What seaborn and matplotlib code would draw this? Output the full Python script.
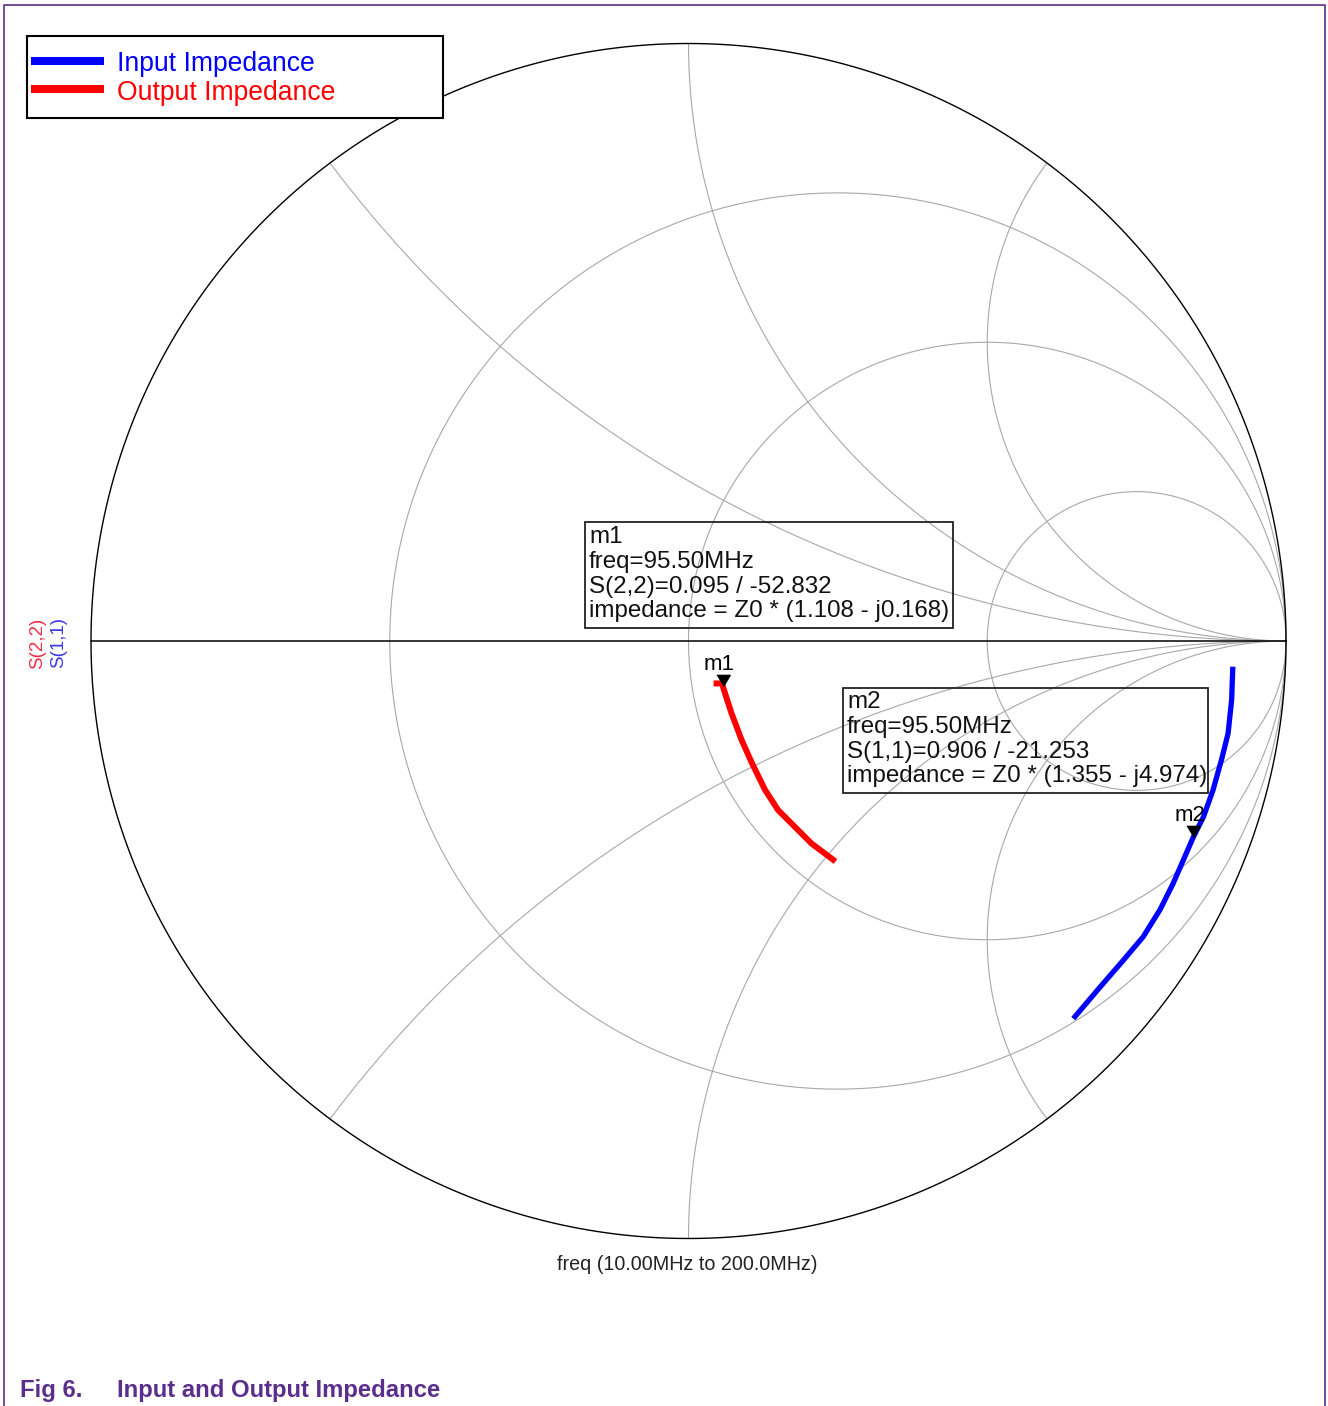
import numpy as np
import pandas as pd
import matplotlib
matplotlib.use("Agg")
import matplotlib.pyplot as plt
from matplotlib.patches import Rectangle
import seaborn as sns

# ---------------- data ----------------
# reflection coefficients (real / imaginary) along the sweep
s11_re = [0.911, 0.909, 0.903, 0.892, 0.878, 0.862, 0.845, 0.828, 0.811, 0.789, 0.761, 0.728, 0.689, 0.644]
s11_im = [-0.043, -0.099, -0.155, -0.199, -0.249, -0.294, -0.328, -0.367, -0.406, -0.450, -0.495, -0.534, -0.579, -0.632]
s22_re = [0.042, 0.056, 0.061, 0.072, 0.089, 0.106, 0.128, 0.150, 0.178, 0.206, 0.246]
s22_im = [-0.071, -0.071, -0.087, -0.121, -0.166, -0.204, -0.249, -0.283, -0.311, -0.339, -0.369]
series_names = ["Input Impedance", "Output Impedance"]
series_colors = ["#0000ff", "#ff0000"]
trace_labels = ["S(2,2)", "S(1,1)"]
trace_label_colors = ["#ee3046", "#3a3ae0"]

marker_names = ["m1", "m2"]
marker_freq = ["95.50MHz", "95.50MHz"]
marker_param = ["S(2,2)", "S(1,1)"]
marker_mag = [0.095, 0.906]
marker_ang = [-52.832, -21.253]
marker_z = ["1.108 - j0.168", "1.355 - j4.974"]

r_grid = [1 / 3, 1, 3]
x_grid = [0.5, 1, 2]
freq_label = "freq (10.00MHz to 200.0MHz)"
caption_num = "Fig 6."
caption_text = "Input and Output Impedance"

# ---------------- layout ----------------
W, H = 1328, 1406
CX, CY, RP = 688.5, 641.0, 597.5
PURPLE = "#5b2d8c"
GRID = "#a8a8a8"

sns.set_theme(style="white")
plt.rcParams["font.family"] = ["Liberation Sans", "DejaVu Sans"]

fig = plt.figure(figsize=(W / 100, H / 100), dpi=100)
fig.patch.set_facecolor("white")
ax = fig.add_axes([0, 0, 1, 1])
ax.set_xlim(-CX / RP, (W - CX) / RP)
ax.set_ylim((CY - H) / RP, CY / RP)
ax.axis("off")


def P(x, y):
    """pixel position (from top-left) -> chart coordinates"""
    return (x - CX) / RP, (CY - y) / RP


# ---------------- Smith grid ----------------
t = np.linspace(0, 2 * np.pi, 1441)
for r in r_grid:
    c, rad = r / (r + 1), 1 / (r + 1)
    ax.plot(c + rad * np.cos(t), rad * np.sin(t), color=GRID, lw=0.8, zorder=1)

phi = np.linspace(0, np.pi / 2 - 1e-5, 2000)
for xv in x_grid:
    for s in (1, -1):
        z = np.tan(phi) + 1j * s * xv
        g = (z - 1) / (z + 1)
        ax.plot(np.append(g.real, 1.0), np.append(g.imag, 0.0), color=GRID, lw=0.8, zorder=1)

ax.plot(np.cos(t), np.sin(t), color="black", lw=1.0, zorder=2)
ax.plot([-1, 1], [0, 0], color="black", lw=1.1, zorder=2)

# ---------------- traces ----------------
df = pd.concat([
    pd.DataFrame({"re": s11_re, "im": s11_im, "series": series_names[0]}),
    pd.DataFrame({"re": s22_re, "im": s22_im, "series": series_names[1]}),
], ignore_index=True)
pal = dict(zip(series_names, series_colors))
for name, lw in zip(series_names, [3.8, 4.3]):
    sns.lineplot(data=df[df["series"] == name], x="re", y="im", hue="series",
                 palette=pal, sort=False, estimator=None, legend=False,
                 lw=lw, ax=ax, zorder=3, solid_capstyle="butt", solid_joinstyle="round")

# ---------------- markers ----------------
tri = [(-0.6, 1.0), (0.6, 1.0), (0.0, 0.0)]
for name, mag, ang in zip(marker_names, marker_mag, marker_ang):
    g = mag * np.exp(1j * np.deg2rad(ang))
    ax.plot([g.real], [g.imag], marker=tri, ms=16, color="black", zorder=6, lw=0)
    ax.annotate(name, (g.real, g.imag), xytext=(-2.5, 16), textcoords="offset points",
                ha="center", va="center", fontsize=16, color="black", zorder=6)

# marker readout boxes
boxes = [(585, 522, 953, 628, 589, 543), (843, 688, 1208, 793, 847, 708)]
for (x0, y0, x1, y1, tx, ty), name, fq, prm, mag, ang, zz in zip(
        boxes, marker_names, marker_freq, marker_param, marker_mag, marker_ang, marker_z):
    ax.add_patch(Rectangle(P(x0, y1), (x1 - x0) / RP, (y1 - y0) / RP, fill=False,
                           edgecolor="#222222", lw=1.3, zorder=5))
    lines = [name, f"freq={fq}", f"{prm}={mag:.3f} / {ang:.3f}", f"impedance = Z0 * ({zz})"]
    for i, ln in enumerate(lines):
        ax.text(*P(tx, ty + 24.8 * i), ln, fontsize=17.4, ha="left", va="baseline",
                color="#111111", zorder=6)

# ---------------- legend ----------------
ax.add_patch(Rectangle(P(27, 118), 416 / RP, 82 / RP, facecolor="white",
                       edgecolor="black", lw=1.5, zorder=7))
for i, (name, col) in enumerate(zip(series_names, series_colors)):
    ly = 61 + 28.5 * i
    xa, ya = P(31, ly)
    xb, _ = P(104, ly)
    ax.plot([xa, xb], [ya, ya], color=col, lw=5.8, solid_capstyle="butt", zorder=8)
    ax.text(*P(117, ly + 10), name, color=col, fontsize=19.1, ha="left",
            va="baseline", zorder=8)

# trace labels on the left
for i, (lab, col) in enumerate(zip(trace_labels, trace_label_colors)):
    ax.text(*P(38 + 21 * i, 643), lab, rotation=90, color=col, fontsize=13.5,
            ha="center", va="center", zorder=4)

# sweep label
ax.text(*P(687, 1265), freq_label, fontsize=14.2, color="#222222",
        ha="center", va="center")

# ---------------- frame and caption ----------------
fx = [P(4, H)[0], P(4, 5)[0], P(1325, 5)[0], P(1325, H)[0]]
fy = [P(4, H)[1], P(4, 5)[1], P(1325, 5)[1], P(1325, H)[1]]
ax.plot(fx, fy, color=PURPLE, lw=1.2, clip_on=False, zorder=9)

ax.text(*P(20, 1397), caption_num, fontsize=17.2, fontweight="bold", color=PURPLE,
        ha="left", va="baseline")
ax.text(*P(117, 1397), caption_text, fontsize=17.2, fontweight="bold", color=PURPLE,
        ha="left", va="baseline")

fig.savefig("out.png", dpi=100, facecolor="white")
